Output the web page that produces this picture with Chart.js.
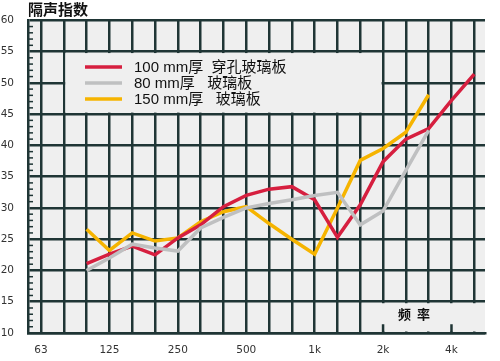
<!DOCTYPE html>
<html>
<head>
<meta charset="utf-8">
<script src="https://cdn.jsdelivr.net/npm/chart.js@4.4.0/dist/chart.umd.min.js"></script>
<style>
body{margin:0;background:#fff}
#wrap{width:500px;height:361px}
</style>
</head>
<body>
<div id="wrap"><canvas id="graphe"></canvas></div>
<script>
// bandes de tiers d'octave
var bandes = ['63','80','100','125','160','200','250','315','400','500','630','800','1k','1.25k','1.6k','2k','2.5k','3.15k','4k','5k'];
var octaves = ['63','125','250','500','1k','2k','4k'];
var yTicks = [10,15,20,25,30,35,40,45,50,55,60];

var perfore100 = [null,null,21.1,22.6,23.9,22.5,25.2,27.3,30.2,32,33,33.4,31.3,25.3,30.5,37.4,41,42.7,47.2,51.4];
var verre80    = [null,null,20,22,24.2,23.6,23.1,26.8,28.5,30,30.7,31.3,32,32.5,27.3,29.5,36,42.4,null,null];
var verre150   = [null,null,26.6,23.2,26,24.7,25.2,27.8,29.4,30.2,27.5,25,22.6,30,37.6,39.5,42.1,48.1,null,null];

var noms = ['100 mm厚  穿孔玻璃板','80 mm厚   玻璃板','150 mm厚   玻璃板'];
var titreY = '隔声指数';
var titreX = '频  率';

var grille = '#1f3535';
var fond = '#efefef';
var police = '"Liberation Sans","Noto Sans CJK SC",sans-serif';

function points(arr){
    return arr.map(function(v,i){ return {x:i, y:v}; });
}

var decor = {
    id: 'decor',
    beforeDraw: function(chart){
        var c = chart.ctx, a = chart.chartArea;
        c.save();
        c.fillStyle = fond;
        c.fillRect(a.left, a.top, a.right-a.left, a.bottom-a.top);
        c.restore();
    },
    beforeDatasetsDraw: function(chart){
        var c = chart.ctx, a = chart.chartArea;
        var sx = chart.scales.x, sy = chart.scales.y;
        c.save();
        // cadre de la legende
        var lx1 = sx.getPixelForValue(1)+1.5, lx2 = sx.getPixelForValue(15)-1.5;
        var ly1 = sy.getPixelForValue(55)+1.5, ly2 = sy.getPixelForValue(45)-1.5;
        c.fillStyle = fond;
        c.fillRect(lx1, ly1, lx2-lx1, ly2-ly1);
        // cadre "frequence"
        var fx1 = sx.getPixelForValue(14)+1.5, fy1 = sy.getPixelForValue(15)+1.5;
        c.fillRect(fx1, fy1, a.right-1.5-fx1, a.bottom-1.5-fy1);
        c.strokeStyle = grille;
        c.lineWidth = 2.5;
        [15,18].forEach(function(i){
            var px = sx.getPixelForValue(i);
            c.beginPath();
            c.moveTo(px, sy.getPixelForValue(11.4));
            c.lineTo(px, a.bottom);
            c.stroke();
        });
        // petites graduations
        c.lineWidth = 1.5;
        for(var v=11; v<60; v++){
            if(v%5===0) continue;
            var py = sy.getPixelForValue(v);
            c.beginPath();
            c.moveTo(a.left, py);
            c.lineTo(a.left+5, py);
            c.stroke();
        }
        // legende
        var couleurs = chart.data.datasets.map(function(d){ return d.borderColor; });
        var ordre = [1,0,2];
        c.font = '15px ' + police;
        c.textBaseline = 'middle';
        c.fillStyle = '#111';
        for(var k=0;k<3;k++){
            var ly = 67 + k*16;
            c.strokeStyle = couleurs[ordre[k]];
            c.lineWidth = 3.5;
            c.beginPath();
            c.moveTo(85, ly);
            c.lineTo(122, ly);
            c.stroke();
            c.fillText(noms[k], 134, ly+1);
        }
        // titres
        c.font = 'bold 15px "Noto Sans CJK SC",sans-serif';
        c.fillText(titreY, 28, 9);
        c.font = 'bold 13px "Noto Sans CJK SC",sans-serif';
        c.fillText(titreX, 398, 314);
        c.restore();
    }
};

var ctx = document.getElementById('graphe');
var graphe = new Chart(ctx, {
    type: 'line',
    data: {
        datasets: [{
            label: noms[1],
            data: points(verre80),
            borderColor: '#bfc0c1',
            borderWidth: 3.5,
            pointRadius: 0,
            tension: 0
        },{
            label: noms[0],
            data: points(perfore100),
            borderColor: '#d61f3f',
            borderWidth: 3.5,
            pointRadius: 0,
            tension: 0
        },{
            label: noms[2],
            data: points(verre150),
            borderColor: '#f6b400',
            borderWidth: 3.5,
            pointRadius: 0,
            tension: 0
        }]
    },
    options: {
        responsive: true,
        maintainAspectRatio: false,
        animation: false,
        layout: { padding: { top: 20, right: 15, left: 0, bottom: 0 } },
        plugins: {
            legend: { display: false },
            tooltip: { enabled: false }
        },
        scales: {
            x: {
                type: 'linear',
                min: -0.57,
                max: 19.47,
                afterBuildTicks: function(scale){
                    scale.ticks = bandes.map(function(b,i){ return {value:i}; });
                },
                afterFit: function(scale){ scale.height = 28; },
                ticks: {
                    autoSkip: false,
                    maxRotation: 0,
                    padding: 11,
                    color: '#333',
                    font: { family: '"DejaVu Sans"', size: 10.5 },
                    callback: function(v){
                        var b = bandes[v];
                        return octaves.indexOf(b) >= 0 ? b : '';
                    }
                },
                grid: { color: grille, lineWidth: 2.5, drawTicks: false },
                border: { color: grille, width: 2.5 }
            },
            y: {
                min: 10,
                max: 60,
                afterBuildTicks: function(scale){
                    scale.ticks = yTicks.map(function(v){ return {value:v}; });
                },
                afterFit: function(scale){ scale.width = 28; },
                ticks: {
                    padding: 14,
                    color: '#333',
                    font: { family: '"DejaVu Sans"', size: 10.5 }
                },
                grid: { color: grille, lineWidth: 2.5, drawTicks: false },
                border: { color: grille, width: 2.5 }
            }
        }
    },
    plugins: [decor]
});
</script>
</body>
</html>
